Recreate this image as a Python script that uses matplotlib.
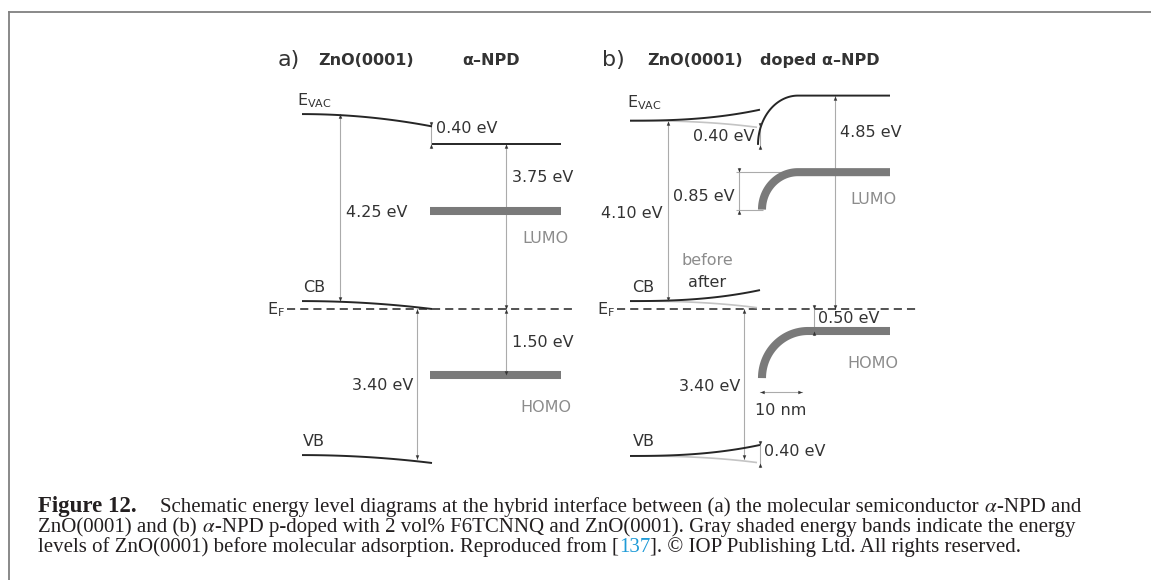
import numpy as np
import matplotlib.pyplot as plt
from matplotlib.path import Path
from matplotlib.lines import Line2D
from matplotlib.transforms import Affine2D

# energies in eV, referenced to the Fermi level E_F

# panel a: ZnO(0001) | alpha-NPD
a_cb = [0.18, 0.00]          # ZnO conduction band, bulk -> interface
a_vb = [-3.32, -3.50]        # ZnO valence band, bulk -> interface
a_affinity = 4.25            # E_VAC - CB of ZnO
a_dipole = 0.40              # vacuum level step at the interface
a_npd_vac = 3.75
a_npd_lumo = 2.23
a_npd_homo = -1.50
a_vb_edge = -3.40

# panel b: ZnO(0001) | doped alpha-NPD
b_cb = 0.18
b_vb = -3.34
b_affinity = 4.10
b_shift = [-0.15, 0.25]      # ZnO band bending before / after adsorption
b_dipole = 0.40
b_npd_vac = 4.85
b_npd_lumo = 3.11
b_lumo_bend = 0.85
b_npd_homo = -0.50
b_homo_bend = 1.07
b_vb_edge = -3.40
b_width_nm = 10

caption = [
    [("Figure 12.", "bold"), (None, "indent"),
     ("Schematic energy level diagrams at the hybrid interface between (a) the molecular semiconductor ", "normal"),
     (r"$\alpha$", "math"), ("-NPD and", "normal")],
    [("ZnO(0001) and (b) ", "normal"), (r"$\alpha$", "math"),
     ("-NPD p-doped with 2 vol% F6TCNNQ and ZnO(0001). Gray shaded energy bands indicate the energy", "normal")],
    [("levels of ZnO(0001) before molecular adsorption. Reproduced from [", "normal"), ("137", "link"),
     ("]. \u00a9 IOP Publishing Ltd. All rights reserved.", "normal")],
]

W, H = 1151, 580
EF_ROW = 309          # pixel row of E_F
PX_PER_EV = 44.0
PX_PER_NM = 4.2

BLACK = '#262626'
TXT = '#333333'
GREY_TXT = '#8c8c8c'
BAR = '#7a7a7a'
BEFORE = '#c4c4c4'
ARROW = '#ababab'

fig = plt.figure(figsize=(W / 100, H / 100), dpi=100)
ax = fig.add_axes([0, 0, 1, 1])
ax.set_xlim(0, W)
ax.set_ylim((EF_ROW - H) / PX_PER_EV, EF_ROW / PX_PER_EV)
ax.axis('off')

# triangular arrow heads with the tip at the marker origin
tri = np.array([(0, 0), (-0.42, -1), (0.42, -1), (0, 0)])
codes = [Path.MOVETO, Path.LINETO, Path.LINETO, Path.CLOSEPOLY]
def head(angle):
    return Path(Affine2D().rotate_deg(angle).transform(tri), codes)
HEAD_UP, HEAD_DOWN, HEAD_LEFT, HEAD_RIGHT = head(0), head(180), head(90), head(-90)


def bend_quad(x0, x1, e_bulk, e_surf, power=2.0, **kw):
    t = np.linspace(0, 1, 80)
    ax.plot(x0 + (x1 - x0) * t, e_bulk + (e_surf - e_bulk) * t ** power,
            solid_capstyle='butt', **kw)


def bend_npd(x0, w, x_end, e_surf, e_bulk, **kw):
    th = np.linspace(0, np.pi / 2, 60)
    x = np.append(x0 + w * (1 - np.cos(th)), x_end)
    e = np.append(e_surf + (e_bulk - e_surf) * np.sin(th), e_bulk)
    ax.plot(x, e, solid_capstyle='butt', **kw)


def level(x0, x1, e, **kw):
    ax.plot([x0, x1], [e, e], solid_capstyle='butt', **kw)


def dim(x, e_top, e_bot, inward=False):
    ext = 0.1 if inward else 0.0
    ax.plot([x, x], [e_top + ext, e_bot - ext], color=ARROW, lw=0.8, zorder=1)
    m_top, m_bot = (HEAD_DOWN, HEAD_UP) if inward else (HEAD_UP, HEAD_DOWN)
    ax.plot(x, e_top, marker=m_top, ms=6, color=TXT, mew=0, zorder=4)
    ax.plot(x, e_bot, marker=m_bot, ms=6, color=TXT, mew=0, zorder=4)


def label(x, e, s, ha='left', color=TXT, **kw):
    kw.setdefault('fontsize', 11.5)
    ax.text(x, e, s, ha=ha, va='center', color=color, zorder=5, **kw)


def fermi(x0, x1):
    ax.plot([x0, x1], [0, 0], color='#444444', lw=1.3, ls=(0, (4.5, 2.8)), zorder=2)


lw_lvl = dict(color=BLACK, lw=1.4, zorder=3)
lw_bar = dict(color=BAR, lw=5.8, zorder=2)
lw_before = dict(color=BEFORE, lw=1.2, zorder=2)

# ---- panel a ----
xa0, xa1, xa2 = 302, 432, 561
a_vac = [a_cb[0] + a_affinity, a_npd_vac + a_dipole]
fermi(287, 573)
bend_quad(xa0, xa1, a_vac[0], a_vac[1], **lw_lvl)
bend_quad(xa0, xa1, a_cb[0], a_cb[1], **lw_lvl)
bend_quad(xa0, xa1, a_vb[0], a_vb[1], **lw_lvl)
level(xa1, xa2, a_npd_vac, **lw_lvl)
level(xa1 - 2, xa2, a_npd_lumo, **lw_bar)
level(xa1 - 2, xa2, a_npd_homo, **lw_bar)

dim(340, a_vac[0], a_cb[0])
dim(xa1 - 1, a_vac[1], a_npd_vac, inward=True)
dim(506, a_npd_vac, 0)
dim(506, 0, a_npd_homo)
dim(417, 0, a_vb_edge)

label(278, 5.66, "a)", fontsize=16)
label(318, 5.64, "ZnO(0001)", fontweight='bold')
label(462, 5.64, "\u03b1\u2013NPD", fontweight='bold')
label(297, 4.73, r"E$_{\mathrm{VAC}}$")
label(408, 2.20, f"{a_affinity:.2f} eV", ha='right')
label(436, 4.10, f"{a_dipole:.2f} eV")
label(512, 2.98, f"{a_npd_vac:.2f} eV")
label(522, 1.61, "LUMO", color=GREY_TXT)
label(303, 0.50, "CB")
label(267, -0.02, r"E$_{\mathrm{F}}$")
label(512, -0.77, f"{-a_npd_homo:.2f} eV")
label(413, -1.73, f"{-a_vb_edge:.2f} eV", ha='right')
label(520, -2.25, "HOMO", color=GREY_TXT)
label(303, -3.02, "VB")

# ---- panel b ----
xb0, xb1, xb2 = 630, 760, 890
b_vac = b_cb + b_affinity
fermi(617, 920)
for e in (b_vac, b_cb, b_vb):
    bend_quad(xb0, xb1 - 3, e, e + b_shift[0], power=2.5, **lw_before)
    bend_quad(xb0, xb1, e, e + b_shift[1], power=2.5, **lw_lvl)

b_vac_if = b_vac + b_shift[0] - b_dipole
bend_npd(xb1 - 2, 40, xb2, b_vac_if, b_npd_vac, **lw_lvl)
lumo_if = b_npd_lumo - b_lumo_bend
homo_if = b_npd_homo - b_homo_bend
level(736, 800, b_npd_lumo, color=ARROW, lw=0.8, zorder=1)
level(736, 763, lumo_if, color=ARROW, lw=0.8, zorder=1)
bend_npd(xb1 + 2, 36, xb2, lumo_if, b_npd_lumo, **lw_bar)
bend_npd(xb1 + 2, 46, xb2, homo_if, b_npd_homo, **lw_bar)

dim(668, b_vac, b_cb)
dim(xb1, b_vac + b_shift[0], b_vac_if, inward=True)
dim(739, b_npd_lumo, lumo_if, inward=True)
dim(835, b_npd_vac, 0)
dim(814, 0, b_npd_homo, inward=True)
dim(744, 0, b_vb_edge)
dim(xb1, b_vb + b_shift[1], b_vb + b_shift[0], inward=True)

# 10 nm width of the bending region
e_nm = -1.89
x_nm = [xb1, xb1 + b_width_nm * PX_PER_NM]
ax.plot(x_nm, [e_nm, e_nm], color=ARROW, lw=0.8, zorder=1)
ax.plot(x_nm[0], e_nm, marker=HEAD_LEFT, ms=6, color=TXT, mew=0, zorder=4)
ax.plot(x_nm[1], e_nm, marker=HEAD_RIGHT, ms=6, color=TXT, mew=0, zorder=4)

label(602, 5.66, "b)", fontsize=16)
label(647, 5.64, "ZnO(0001)", fontweight='bold')
label(760, 5.64, "doped \u03b1\u2013NPD", fontweight='bold')
label(627, 4.68, r"E$_{\mathrm{VAC}}$")
label(755, 3.91, f"{b_dipole:.2f} eV", ha='right')
label(840, 4.02, f"{b_npd_vac:.2f} eV")
label(735, 2.55, f"{b_lumo_bend:.2f} eV", ha='right')
label(663, 2.18, f"{b_affinity:.2f} eV", ha='right')
label(850, 2.48, "LUMO", color=GREY_TXT)
label(682, 1.11, "before", color=GREY_TXT)
label(688, 0.61, "after")
label(632, 0.50, "CB")
label(597, -0.02, r"E$_{\mathrm{F}}$")
label(818, -0.22, f"{-b_npd_homo:.2f} eV")
label(847, -1.23, "HOMO", color=GREY_TXT)
label(740, -1.77, f"{-b_vb_edge:.2f} eV", ha='right')
label(sum(x_nm) / 2, -2.30, f"{b_width_nm} nm", ha='center')
label(633, -3.02, "VB")
label(764, -3.25, f"{b_shift[1] - b_shift[0]:.2f} eV")

# ---- open frame ----
frame = dict(color='#808080', lw=1.3, transform=fig.transFigure)
fig.add_artist(Line2D([8.5 / W, 1], [1 - 11.5 / H, 1 - 11.5 / H], **frame))
fig.add_artist(Line2D([8.5 / W, 8.5 / W], [1 - 11.5 / H, 0], **frame))

# ---- caption ----
renderer = fig.canvas.get_renderer()
CAP_X, CAP_INDENT = 38, 122
styles = {
    'normal': dict(family='Liberation Serif', color='#231f20', fontsize=15),
    'bold': dict(family='Liberation Serif', fontweight='bold', color='#231f20', fontsize=16.5),
    'math': dict(math_fontfamily='stix', color='#231f20', fontsize=15),
    'link': dict(family='Liberation Serif', color='#1f9bd7', fontsize=15),
}
for row, pieces in zip((512, 532, 552), caption):
    x = CAP_X
    for s, st in pieces:
        if st == 'indent':
            x = CAP_X + CAP_INDENT
            continue
        t = fig.text(x / W, 1 - row / H, s, ha='left', va='baseline', **styles[st])
        x = t.get_window_extent(renderer).x1

fig.savefig('out.png', dpi=100)
